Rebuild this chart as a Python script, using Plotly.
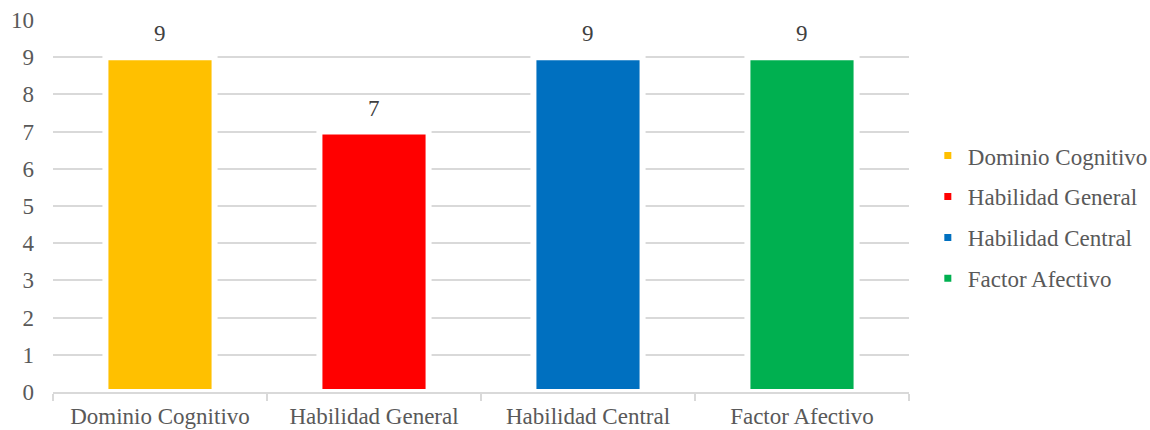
import plotly.graph_objects as go

categories = ["Dominio Cognitivo", "Habilidad General", "Habilidad Central", "Factor Afectivo"]
values = [9, 7, 9, 9]
colors = ["#FFC000", "#FF0000", "#0070C0", "#00B050"]

font_family = "Liberation Serif, Times New Roman, serif"
text_color = "#595959"
fs = 23

fig = go.Figure()
for i, (cat, val, col) in enumerate(zip(categories, values, colors)):
    fig.add_trace(go.Bar(
        x=[cat], y=[val], name=cat,
        marker=dict(color=col, line=dict(color="white", width=6)),
        width=0.51,
        legendgroup=cat,
    ))
    fig.add_annotation(
        x=cat, y=val, xref="x", yref="y",
        text=str(val), showarrow=False,
        yanchor="bottom", yshift=9,
        font=dict(family=font_family, size=fs, color="#404040"),
    )

fig.update_layout(
    width=1150, height=430,
    margin=dict(l=53, r=241, t=20, b=38, autoexpand=False),
    paper_bgcolor="white", plot_bgcolor="white",
    barmode="overlay",
    font=dict(family=font_family, size=fs, color=text_color),
    showlegend=True,
    legend=dict(
        x=1.022, y=0.47, xanchor="left", yanchor="middle",
        font=dict(family=font_family, size=fs, color=text_color),
        traceorder="grouped", tracegroupgap=8,
        itemwidth=30,
    ),
    xaxis=dict(
        type="category",
        showline=True, linecolor="#D9D9D9", linewidth=2,
        ticks="outside", tickson="boundaries", ticklen=7, tickcolor="#D9D9D9", tickwidth=2,
        showgrid=False, ticklabelstandoff=2,
        tickfont=dict(family=font_family, size=fs, color=text_color),
    ),
    yaxis=dict(
        range=[0, 10], dtick=1, tick0=0,
        showgrid=True, gridcolor="#D9D9D9", gridwidth=2,
        zeroline=False, showline=False,
        ticks="", ticklabelstandoff=18,
        tickfont=dict(family=font_family, size=fs, color=text_color),
    ),
)

fig.write_html("out.html")
